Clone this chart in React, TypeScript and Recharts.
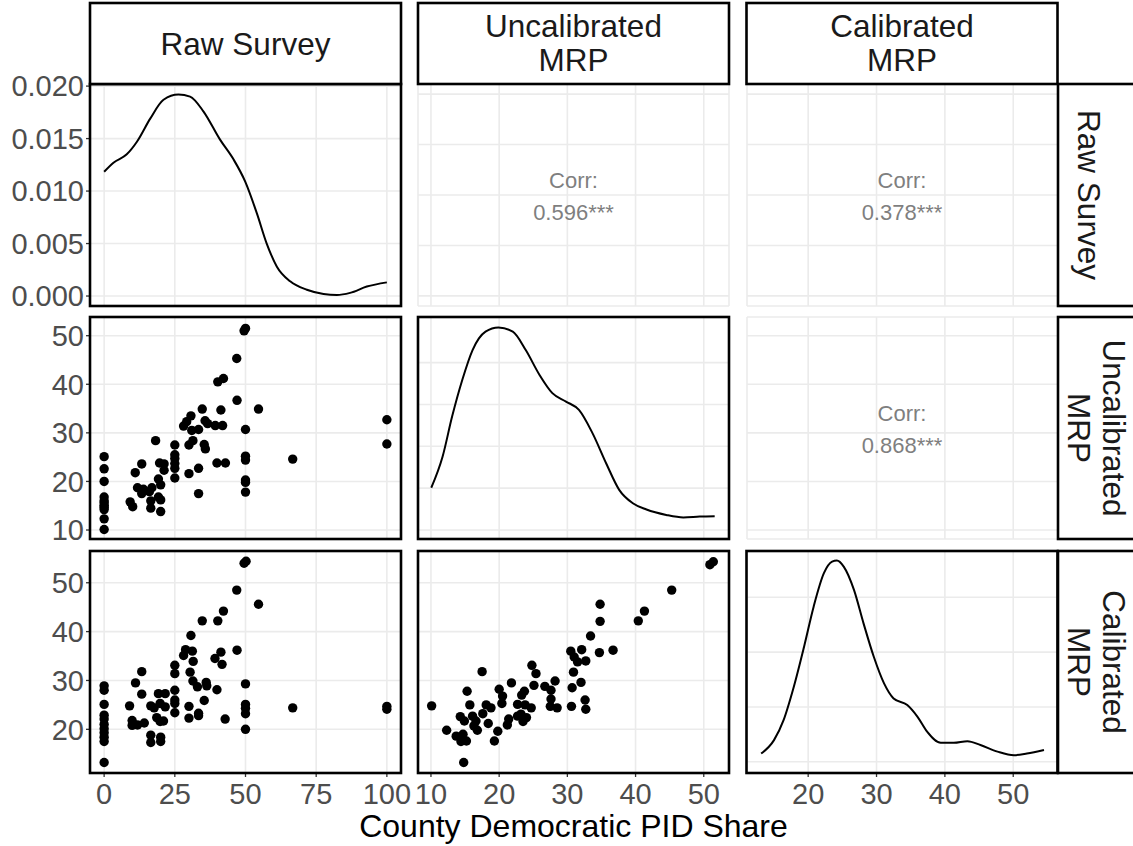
import React from 'react';
import { ComposedChart, Scatter, Line, XAxis, YAxis, CartesianGrid } from 'recharts';

type Pt = { x: number; y: number };
const toPts = (a: number[][]): Pt[] => a.map(([x, y]) => ({ x, y }));

// ---------- data ----------
const rawVsUncal = toPts([
  [49.5, 51.0], [50, 51.5], [46.9, 45.3], [40.2, 40.5], [42.2, 41.2], [47.0, 36.7], [54.6, 34.9],
  [34.7, 34.9], [41.3, 34.7], [30.7, 33.5], [29.2, 32.3], [28.1, 31.4], [35.7, 32.5], [36.6, 31.9],
  [39.3, 31.5], [41.9, 31.5], [31.0, 30.5], [33.4, 30.7], [50, 30.7], [100, 32.7], [100, 27.7],
  [18.2, 28.4], [25, 27.5], [30, 27.5], [31.4, 28.4], [35.4, 27.6], [35.8, 26.7], [25, 25.5],
  [25, 24.7], [25, 23.7], [25, 22.7], [25, 20.7], [50, 25.2], [50, 24.4], [50, 20.3], [50, 19.8],
  [50, 17.8], [66.7, 24.6], [39.9, 23.8], [42.9, 23.8], [13.3, 23.6], [11.0, 21.8], [19.6, 23.8],
  [21.2, 23.6], [21.2, 22.3], [19.2, 20.5], [20.0, 19.3], [30, 21.6], [33.4, 22.7], [33.4, 17.5],
  [11.8, 18.7], [13.9, 18.4], [16.9, 18.7], [16.0, 17.9], [13.3, 17.5], [19.2, 16.8], [20, 16.2],
  [16.5, 16.0], [16.5, 14.5], [20, 13.8], [9.2, 15.8], [10.1, 14.8], [0, 25.1], [0, 22.6],
  [0, 20.0], [0, 16.8], [0, 16.0], [0, 15.6], [0, 15.1], [0, 14.7], [0, 14.2], [0, 12.3], [0, 10.1],
]);

const rawVsCal = toPts([
  [49.5, 54.0], [50.2, 54.4], [46.9, 48.5], [54.6, 45.6], [42.2, 44.2], [34.7, 42.2], [40.2, 42.2],
  [30.7, 39.2], [28.8, 36.3], [31.2, 36.0], [28.1, 35.1], [31.5, 33.9], [41.3, 35.8], [39.2, 34.5],
  [41.7, 33.3], [47.0, 36.2], [25, 33.1], [25, 31.4], [30.4, 31.7], [31.4, 29.9], [33.0, 28.7],
  [36.1, 29.6], [36.3, 28.9], [35.4, 25.9], [39.9, 28.1], [50, 29.3], [13.3, 31.8], [11.1, 29.5],
  [13.3, 27.2], [19.2, 27.3], [21.6, 27.3], [25, 28.0], [25, 26.0], [25, 25.3], [25, 23.4],
  [9.0, 24.8], [16.5, 24.8], [17.7, 24.4], [19.8, 25.3], [21.6, 24.6], [18.6, 22.4], [19.8, 21.6],
  [21.0, 21.7], [30, 24.7], [30, 22.3], [33.4, 23.3], [33.4, 22.8], [42.8, 22.1], [50, 25.1],
  [50, 24.3], [50, 23.2], [50, 20.0], [66.7, 24.4], [100, 24.7], [100, 24.1], [9.9, 21.8],
  [9.9, 20.8], [11.8, 20.9], [14.2, 21.3], [16.5, 18.8], [16.5, 17.3], [20, 18.4], [20, 17.5],
  [0, 28.9], [0, 28.0], [0, 25.1], [0, 22.9], [0, 22.1], [0, 21.0], [0, 20.1], [0, 19.3],
  [0, 18.4], [0, 17.5], [0, 13.2],
]);

const uncalVsCal = toPts([
  [50.9, 53.7], [51.4, 54.3], [45.3, 48.5], [34.8, 45.6], [41.3, 44.2], [40.4, 42.2], [34.8, 42.1],
  [33.4, 39.1], [30.5, 36.0], [32.1, 36.3], [31.0, 34.8], [31.5, 33.8], [32.7, 34.0], [34.7, 35.7],
  [36.7, 36.2], [30.9, 31.7], [24.8, 33.1], [25.4, 31.4], [17.5, 31.8], [21.8, 29.5], [25.1, 29.0],
  [26.7, 28.8], [27.6, 28.0], [28.2, 29.9], [30.7, 28.5], [32.0, 29.6], [27.6, 26.2], [27.5, 24.7],
  [28.5, 24.4], [30.6, 24.7], [32.6, 26.0], [32.7, 24.1], [15.3, 27.8], [20.0, 28.2], [20.5, 26.8],
  [20.4, 25.3], [23.7, 27.8], [23.3, 27.0], [22.7, 25.1], [23.8, 25.0], [24.7, 24.4], [10.1, 24.8],
  [15.7, 25.0], [18.1, 25.0], [18.8, 24.4], [17.6, 23.2], [14.3, 22.6], [14.9, 21.7], [16.1, 22.7],
  [16.6, 21.7], [16.3, 20.7], [16.8, 19.8], [21.4, 22.1], [22.7, 22.7], [23.2, 23.1], [24.0, 22.4],
  [23.5, 21.6], [18.4, 21.2], [19.8, 19.6], [19.3, 17.6], [21.2, 20.9], [12.3, 19.8], [13.7, 18.6],
  [14.7, 19.0], [14.4, 17.5], [15.2, 17.6], [14.8, 13.2],
]);

const rawDensity = toPts([
  [0, 0.01184], [3.3, 0.0127], [8.0, 0.0135], [11.6, 0.0147], [16.3, 0.0169], [21, 0.0187],
  [26.3, 0.0192], [30.4, 0.019], [35.1, 0.0176], [41.0, 0.0149], [45.8, 0.013], [49.9, 0.0109],
  [54.0, 0.0079], [57.5, 0.005], [61.1, 0.0028], [65.8, 0.0014], [71.7, 0.0006], [77.6, 0.0002],
  [82.3, 0.0001], [87.0, 0.0003], [92.9, 0.0009], [100, 0.0013],
]);

const uncalDensity = toPts([
  [10.05, 0.0101], [11.7, 0.0175], [13.1, 0.0271], [14.6, 0.0359], [16.1, 0.043], [18.0, 0.0474],
  [19.9, 0.0484], [22.0, 0.0474], [23.9, 0.043], [25.9, 0.0371], [27.8, 0.0327], [29.8, 0.0307],
  [31.7, 0.0287], [33.7, 0.0231], [35.7, 0.0159], [37.6, 0.0096], [39.6, 0.0064], [41.6, 0.0049],
  [44.5, 0.0036], [47.0, 0.003], [49.4, 0.0032], [51.6, 0.0033],
]);

const calDensity = toPts([
  [13.12, 0.003], [15.0, 0.0079], [16.4, 0.0152], [17.9, 0.0274], [19.4, 0.042], [20.8, 0.0566],
  [22.3, 0.0688], [23.5, 0.073], [24.2, 0.0734], [25.2, 0.0712], [26.7, 0.0627], [28.1, 0.0505],
  [29.6, 0.0383], [31.1, 0.0286], [32.5, 0.0231], [34.5, 0.0207], [36.0, 0.0164], [37.4, 0.011],
  [39.4, 0.0069], [41.3, 0.0069], [43.3, 0.0075], [45.2, 0.0061], [47.7, 0.0037], [50.1, 0.0024],
  [52.0, 0.003], [54.5, 0.0043],
]);

const varNames = [['Raw Survey'], ['Uncalibrated', 'MRP'], ['Calibrated', 'MRP']];
const corrLabels = ['0.596***', '0.378***', '0.868***'];
const xTitle = 'County Democratic PID Share';

const rawTicks = [0, 25, 50, 75, 100];
const uncalTicks = [10, 20, 30, 40, 50];
const calTicks = [20, 30, 40, 50];
const rawDensTicks = [0, 0.005, 0.01, 0.015, 0.02];
const uncalDensTicks = [0, 0.01, 0.02, 0.03, 0.04];
const calDensTicks = [0, 0.02, 0.04, 0.06];

const rawDomain: [number, number] = [-5, 105];
const uncalDomain: [number, number] = [8.1, 53.7];
const uncalYDomain: [number, number] = [8.15, 53.85];
const calDomain: [number, number] = [11.05, 56.55];
const calYDomain: [number, number] = [11.06, 56.5];
const rawDensDomain: [number, number] = [-0.00095, 0.0202];
const uncalDensDomain: [number, number] = [-0.00215, 0.0509];
const calDensDomain: [number, number] = [-0.0041, 0.0769];

// ---------- layout ----------
const COLS = [90, 418, 746.5];
const ROWS = [84, 317, 551];
const PW = 311;
const PH = 222;
const M = 26;
const YW = 90;
const XH = 44;
const FONT = '"Liberation Sans", Arial, Helvetica, sans-serif';
const TICK_FS = 29;

type PanelProps = {
  col: number;
  row: number;
  xDomain: [number, number];
  yDomain: [number, number];
  xTicks: number[];
  yTicks: number[];
  showX?: boolean;
  showY?: boolean;
  yFmt?: (v: number) => string;
  points?: Pt[];
  curve?: Pt[];
};

const Dot = (props: any) => <circle cx={props.cx} cy={props.cy} r={4.7} fill="#000000" />;

function Panel(p: PanelProps) {
  const yw = p.showY ? YW : 0;
  const xh = p.showX ? XH : 0;
  const width = PW + 2 * M + yw;
  const height = PH + 2 * M + xh;
  const tickStyle = { fontSize: TICK_FS, fill: '#4D4D4D', fontFamily: FONT };
  return (
    <div style={{ position: 'absolute', left: COLS[p.col] - M - yw, top: ROWS[p.row] - M, width, height }}>
      <ComposedChart width={width} height={height} margin={{ top: M, right: M, bottom: M, left: M }} data={p.curve}>
        <CartesianGrid stroke="#EBEBEB" strokeWidth={1.6} />
        <XAxis
          type="number"
          dataKey="x"
          domain={p.xDomain}
          ticks={p.xTicks}
          allowDataOverflow
          interval={0}
          hide={!p.showX}
          height={XH}
          axisLine={false}
          tickLine={{ stroke: '#333333', strokeWidth: 1.3 }}
          tickSize={4}
          tickMargin={6}
          tick={tickStyle}
        />
        <YAxis
          type="number"
          dataKey="y"
          domain={p.yDomain}
          ticks={p.yTicks}
          allowDataOverflow
          interval={0}
          hide={!p.showY}
          width={YW}
          axisLine={false}
          tickLine={{ stroke: '#333333', strokeWidth: 1.3 }}
          tickSize={4}
          tickMargin={2}
          tick={tickStyle}
          tickFormatter={p.yFmt}
        />
        {p.curve && (
          <Line
            type="monotone"
            dataKey="y"
            stroke="#000000"
            strokeWidth={2}
            dot={false}
            isAnimationActive={false}
          />
        )}
        {p.points && <Scatter data={p.points} shape={Dot} isAnimationActive={false} />}
      </ComposedChart>
    </div>
  );
}

function Overlay() {
  const stripText = { fontSize: 31.5, fill: '#1A1A1A', fontFamily: FONT, textAnchor: 'middle' as const };
  const corrText = { fontSize: 22, fill: '#7F7F7F', fontFamily: FONT, textAnchor: 'middle' as const };
  const colCenters = COLS.map((c) => c + PW / 2);
  const rowCenters = ROWS.map((r) => r + PH / 2);
  const bordered: [number, number][] = [
    [0, 0], [0, 1], [1, 1], [0, 2], [1, 2], [2, 2],
  ];
  return (
    <svg
      width={1133}
      height={846}
      style={{ position: 'absolute', left: 0, top: 0, pointerEvents: 'none' }}
    >
      {bordered.map(([c, r]) => (
        <rect key={`b${c}${r}`} x={COLS[c]} y={ROWS[r]} width={PW} height={PH} fill="none" stroke="#000" strokeWidth={2.6} />
      ))}
      {COLS.map((c, i) => (
        <g key={`ts${i}`}>
          <rect x={c} y={3} width={PW} height={81} fill="#FFFFFF" stroke="#000" strokeWidth={2.6} />
          {varNames[i].length === 1 ? (
            <text x={colCenters[i]} y={55} {...stripText}>{varNames[i][0]}</text>
          ) : (
            <>
              <text x={colCenters[i]} y={36.5} {...stripText}>{varNames[i][0]}</text>
              <text x={colCenters[i]} y={71} {...stripText}>{varNames[i][1]}</text>
            </>
          )}
        </g>
      ))}
      {ROWS.map((r, i) => (
        <g key={`rs${i}`}>
          <rect x={1058} y={r} width={81} height={PH} fill="#FFFFFF" stroke="#000" strokeWidth={2.6} />
          {varNames[i].length === 1 ? (
            <text transform={`translate(1078, ${rowCenters[i]}) rotate(90)`} x={0} y={0} {...stripText}>
              {varNames[i][0]}
            </text>
          ) : (
            <>
              <text transform={`translate(1103, ${rowCenters[i]}) rotate(90)`} x={0} y={0} {...stripText}>
                {varNames[i][0]}
              </text>
              <text transform={`translate(1068, ${rowCenters[i]}) rotate(90)`} x={0} y={0} {...stripText}>
                {varNames[i][1]}
              </text>
            </>
          )}
        </g>
      ))}
      {[
        [1, 0, corrLabels[0]],
        [2, 0, corrLabels[1]],
        [2, 1, corrLabels[2]],
      ].map(([c, r, lab]) => (
        <g key={`c${c}${r}`}>
          <text x={colCenters[c as number]} y={rowCenters[r as number] - 7} {...corrText}>Corr:</text>
          <text x={colCenters[c as number]} y={rowCenters[r as number] + 25} {...corrText}>{lab as string}</text>
        </g>
      ))}
      <text x={colCenters[1]} y={837} fontSize={32} fill="#000" fontFamily={FONT} textAnchor="middle">
        {xTitle}
      </text>
    </svg>
  );
}

export default function App() {
  return (
    <div style={{ position: 'absolute', left: 0, top: 0, width: 1133, height: 846, background: '#FFFFFF', overflow: 'hidden' }}>
      <Panel col={0} row={0} xDomain={rawDomain} yDomain={rawDensDomain} xTicks={rawTicks} yTicks={rawDensTicks}
        showY yFmt={(v) => v.toFixed(3)} curve={rawDensity} />
      <Panel col={1} row={0} xDomain={uncalDomain} yDomain={rawDomain} xTicks={uncalTicks} yTicks={rawTicks} />
      <Panel col={2} row={0} xDomain={calDomain} yDomain={rawDomain} xTicks={calTicks} yTicks={rawTicks} />

      <Panel col={0} row={1} xDomain={rawDomain} yDomain={uncalYDomain} xTicks={rawTicks} yTicks={uncalTicks}
        showY points={rawVsUncal} />
      <Panel col={1} row={1} xDomain={uncalDomain} yDomain={uncalDensDomain} xTicks={uncalTicks} yTicks={uncalDensTicks}
        curve={uncalDensity} />
      <Panel col={2} row={1} xDomain={calDomain} yDomain={uncalYDomain} xTicks={calTicks} yTicks={uncalTicks} />

      <Panel col={0} row={2} xDomain={rawDomain} yDomain={calYDomain} xTicks={rawTicks} yTicks={calTicks}
        showY showX points={rawVsCal} />
      <Panel col={1} row={2} xDomain={uncalDomain} yDomain={calYDomain} xTicks={uncalTicks} yTicks={calTicks}
        showX points={uncalVsCal} />
      <Panel col={2} row={2} xDomain={calDomain} yDomain={calDensDomain} xTicks={calTicks} yTicks={calDensTicks}
        showX curve={calDensity} />

      <Overlay />
    </div>
  );
}
